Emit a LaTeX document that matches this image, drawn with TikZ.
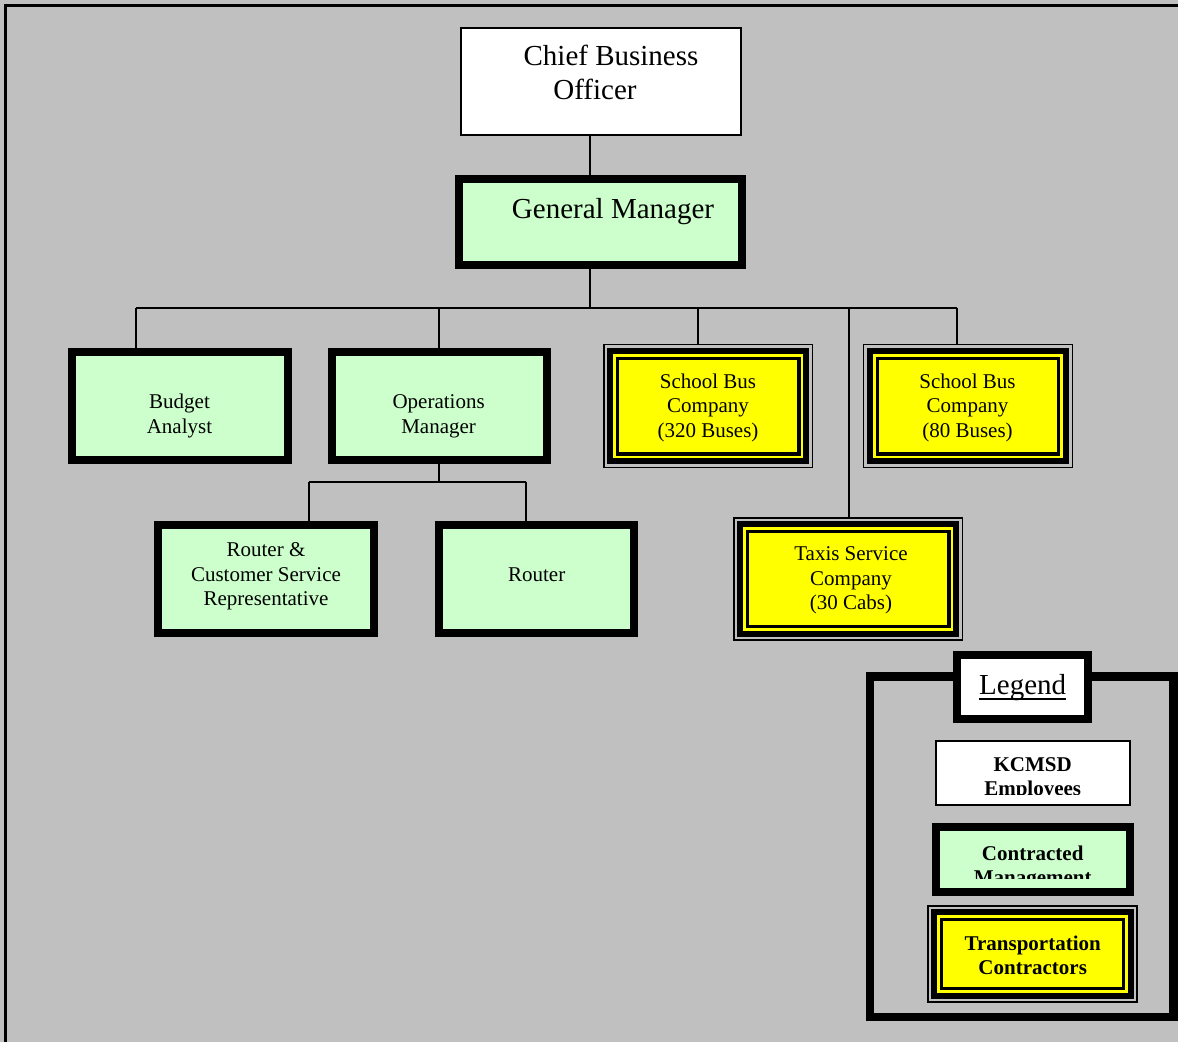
\documentclass[tikz,border=0pt]{standalone}
\usepackage{fontspec}
\setmainfont{Liberation Serif}

\definecolor{sheet}{HTML}{C0C0C0}
\definecolor{mgmtgreen}{HTML}{CCFFCC}
\definecolor{contractyellow}{HTML}{FFFF00}

\tikzset{
  box/.style={rectangle, inner sep=0pt, outer sep=0pt, draw=black},
  staffbox/.style={box, fill=white, line width=2pt},
  mgmtbox/.style={box, fill=mgmtgreen, line width=8pt},
  contbox/.style={box, line width=1.4pt},
  bigtext/.style={font=\fontsize{29}{34.5}\selectfont, align=center, inner sep=0pt},
  smalltext/.style={font=\fontsize{21}{24.5}\selectfont, align=center, inner sep=0pt},
  boldtext/.style={font=\fontsize{21}{24.5}\selectfont\bfseries, align=center, inner sep=0pt},
  link/.style={line width=1.9pt, draw=black},
}

% inner black/yellow rings of a contractor box
\newcommand\contractrings[1]{%
  \draw[line width=6pt, fill=contractyellow]
    ([shift={(6.3,6.3)}]#1.north west) rectangle ([shift={(-6.3,-6.3)}]#1.south east);
  \draw[line width=3.2pt]
    ([shift={(13.7,13.7)}]#1.north west) rectangle ([shift={(-13.7,-13.7)}]#1.south east);}

\begin{document}
\begin{tikzpicture}[x=1pt,y=-1pt]
\fill[sheet] (0,0) rectangle (1178,1042);
\useasboundingbox (0,0) rectangle (1178,1042);
\draw[line width=3pt] (5.5,1042) -- (5.5,5.5) -- (1178,5.5);

% ---- organisation boxes ----
\node[staffbox, minimum width=280pt, minimum height=107pt] (cbo) at (601,81.5) {};
\node[mgmtbox, minimum width=283pt, minimum height=86pt] (gm) at (600.5,222) {};
\node[mgmtbox, minimum width=216pt, minimum height=108pt] (ba) at (179.5,406) {};
\node[mgmtbox, minimum width=215pt, minimum height=108pt] (ops) at (439.3,406) {};
\node[contbox, minimum width=208.6pt, minimum height=122.9pt] (sbc1) at (708.3,406.2) {};
\node[contbox, minimum width=208.6pt, minimum height=122.9pt] (sbc2) at (968,406.2) {};
\node[contbox, minimum width=228.6pt, minimum height=122pt] (taxi) at (848.3,579) {};
\node[mgmtbox, minimum width=216.3pt, minimum height=107.7pt] (rcsr) at (266.2,578.85) {};
\node[mgmtbox, minimum width=194.7pt, minimum height=107.7pt] (router) at (536.35,578.85) {};
\contractrings{sbc1}
\contractrings{sbc2}
\contractrings{taxi}

% ---- labels ----
\node[bigtext] (cbo-t) at (611,75.6) {\strut Chief Business\\\hspace*{-32pt}\strut Officer};
\node[bigtext] (gm-t) at (613,211.1) {\strut General Manager};
\node[smalltext] (ba-t) at (179.5,416.1) {\strut Budget\\\strut Analyst};
\node[smalltext] (ops-t) at (438.6,416.1) {\strut Operations\\\strut Manager};
\node[smalltext] (sbc1-t) at (708,407.6) {\strut School Bus\\\strut Company\\\strut (320 Buses)};
\node[smalltext] (sbc2-t) at (967.5,407.6) {\strut School Bus\\\strut Company\\\strut (80 Buses)};
\node[smalltext] (taxi-t) at (851,580.4) {\strut Taxis Service\\\strut Company\\\strut (30 Cabs)};
\node[smalltext] (rcsr-t) at (266,576.1) {\strut Router \&\\\strut Customer Service\\\strut Representative};
\node[smalltext] (router-t) at (536.7,576.8) {\strut Router};

% ---- reporting lines ----
\coordinate (hub) at (589.8,308.3);
\coordinate (busL) at (136.4,308.3);
\coordinate (busR) at (957.1,308.3);
\coordinate (drop3) at (698.2,308.3);
\coordinate (subL) at (309.3,481.7);
\coordinate (subR) at (526,481.7);
\draw[link] (cbo.south -| hub) -- (gm.north -| hub);
\draw[link] (gm.south -| hub) -- (hub);
\draw[link] (busL) -- (busR);
\draw[link] (busL) -- (ba.north -| busL);
\draw[link] (ops.north -| 438.6,0) -- (438.6,308.3);
\draw[link] (drop3) -- (sbc1.north -| drop3);
\draw[link] (busR) -- (sbc2.north -| busR);
\draw[link] (taxi.north -| 849.4,0) -- (849.4,308.3);
\draw[link] (ops.south -| 438.6,0) -- (438.6,481.7);
\draw[link] (subL) -- (subR);
\draw[link] (subL) -- (rcsr.north -| subL);
\draw[link] (subR) -- (router.north -| subR);

% ---- legend ----
\node[box, line width=8.5pt, minimum width=303.2pt, minimum height=340.3pt] (lframe) at (1021.8,846.6) {};
\node[box, fill=white, line width=8pt, minimum width=131pt, minimum height=63.7pt] (ltitle) at (1022.8,686.85) {};
\node[font=\fontsize{29}{34.5}\selectfont, inner sep=0pt] (ltitle-t) at (1022.7,687.1) {\strut Legend};
\draw[line width=1.8pt] ([yshift=-5.3pt]ltitle-t.base west) -- ([yshift=-5.3pt]ltitle-t.base east);

\node[staffbox, minimum width=193.7pt, minimum height=64pt] (lstaff) at (1032.85,773) {};
\begin{scope}
  \clip (930,740) rectangle (1135,794.5);
  \node[boldtext] (lstaff-t) at (1032.7,778.35) {\strut KCMSD\\\strut Employees};
\end{scope}

\node[mgmtbox, minimum width=194.3pt, minimum height=65.3pt] (lmgmt) at (1032.85,859.35) {};
\begin{scope}
  \clip (930,826) rectangle (1135,878.5);
  \node[boldtext] (lmgmt-t) at (1032.7,867.35) {\strut Contracted\\\strut Management};
\end{scope}

\node[contbox, line width=1.6pt, minimum width=209pt, minimum height=96.3pt] (lcont) at (1032.5,953.85) {};
\contractrings{lcont}
\node[boldtext] (lcont-t) at (1032.7,957.35) {\strut Transportation\\\strut Contractors};
\end{tikzpicture}
\end{document}
